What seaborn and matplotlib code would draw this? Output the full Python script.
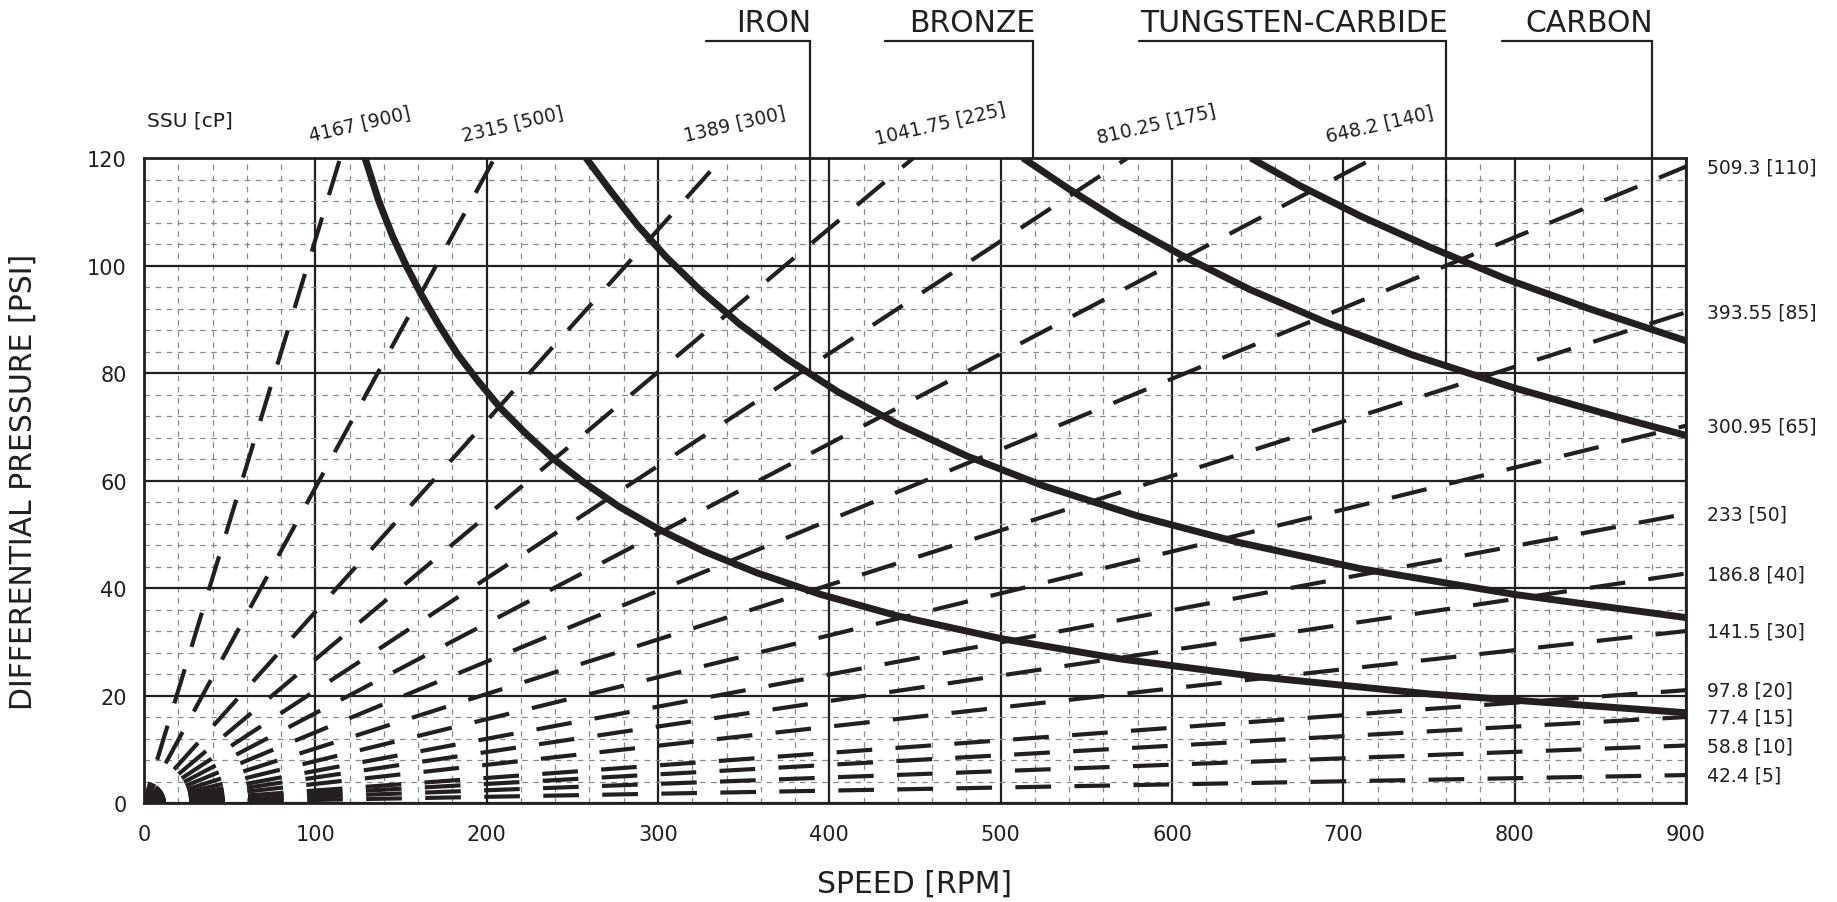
## PUMP SPEED / PRESSURE / VISCOSITY CHART

## LOAD LIBRARIES
import pandas as pd
import numpy as np
import matplotlib
matplotlib.use('Agg')
import matplotlib.pyplot as plt
import seaborn as sns

## DATA
#### viscosity lines leaving through the top edge (P = 120)
top_ssu = ['4167', '2315', '1389', '1041.75', '810.25', '648.2']
top_cp = [900, 500, 300, 225, 175, 140]
top_x_end = [114.5, 204.6, 337.5, 449, 574, 718]
top_label_x = [126, 215, 345, 465, 591, 721]

#### viscosity lines leaving through the right edge (N = 900)
right_ssu = ['509.3', '393.55', '300.95', '233', '186.8', '141.5', '97.8', '77.4', '58.8', '42.4']
right_cp = [110, 85, 65, 50, 40, 30, 20, 15, 10, 5]
right_y_end = [118.4, 91.3, 70.2, 53.8, 42.7, 32.0, 21.0, 16.0, 10.7, 5.2]

#### material limit curves (speed, pressure)
iron_x = [129, 137, 145, 153, 162, 172, 183, 195, 208, 222, 238, 256, 277, 300, 327, 358, 395, 440, 500, 570, 650, 750, 900]
iron_y = [120, 112, 105.5, 100, 94.5, 89, 83.5, 78.5, 73.5, 69, 64.3, 59.8, 55.2, 51, 46.8, 42.8, 38.8, 34.8, 30.6, 26.8, 23.5, 20.3, 16.8]
bronze_x = [258, 272, 288, 305, 325, 348, 375, 405, 440, 480, 525, 580, 640, 710, 800, 900]
bronze_y = [120, 114, 107.5, 101.5, 95.3, 89, 82.7, 76.5, 70.5, 64.6, 59, 53.4, 48.4, 43.6, 38.8, 34.5]
tungsten_x = [513, 540, 570, 605, 645, 690, 740, 800, 860, 900]
tungsten_y = [120, 114.2, 108.2, 102, 95.6, 89.4, 83.4, 77.2, 71.8, 68.4]
carbon_x = [646, 675, 710, 750, 795, 845, 900]
carbon_y = [120, 114.8, 109.2, 103.5, 97.5, 91.8, 86]

#### material labels and their leader lines
materials = ['IRON', 'BRONZE', 'TUNGSTEN-CARBIDE', 'CARBON']
mat_line_x = [388.7, 519, 760, 880]
mat_line_start = [328, 432.5, 581, 792.6]
mat_line_end = [80, 120, 81, 88]

INK = '#231f20'

## STYLE
sns.set_style('white')
plt.rcParams['font.family'] = ['DejaVu Sans']
plt.rcParams['lines.scale_dashes'] = False
plt.rcParams['text.color'] = INK

fig = plt.figure(figsize=(18.37, 9.03), dpi=100)
ax = fig.add_axes([0.0784, 0.1096, 0.8394, 0.7143])

#### dashed viscosity lines from the origin
dash_style = (10, (25.7, 16.8))
for xe in top_x_end:
    seg = pd.DataFrame({'x': [0, xe], 'y': [0, 120]})
    sns.lineplot(data=seg, x='x', y='y', ax=ax, color=INK, lw=3,
                 linestyle=dash_style, dash_capstyle='butt',
                 estimator=None, sort=False, zorder=3)
for ye in right_y_end:
    seg = pd.DataFrame({'x': [0, 900], 'y': [0, ye]})
    sns.lineplot(data=seg, x='x', y='y', ax=ax, color=INK, lw=3,
                 linestyle=dash_style, dash_capstyle='butt',
                 estimator=None, sort=False, zorder=3)

#### material curves
curves = [(iron_x, iron_y), (bronze_x, bronze_y), (tungsten_x, tungsten_y), (carbon_x, carbon_y)]
for cx, cy in curves:
    sns.lineplot(x=cx, y=cy, ax=ax, color=INK, lw=5, estimator=None,
                 sort=False, zorder=4, solid_capstyle='butt')

#### labels of viscosity lines
ax.text(2, 127, 'SSU [cP]', fontsize=14.5, ha='left', va='center', clip_on=False)
for s, c, lx in zip(top_ssu, top_cp, top_label_x):
    ax.text(lx, 126.4, f'{s} [{c}]', fontsize=13.5, rotation=13,
            rotation_mode='anchor', ha='center', va='center', clip_on=False)
for s, c, ye in zip(right_ssu, right_cp, right_y_end):
    ax.text(912, ye, f'{s} [{c}]', fontsize=13.5, ha='left', va='center', clip_on=False)

#### material labels with leader lines
for name, lx, ls, le in zip(materials, mat_line_x, mat_line_start, mat_line_end):
    ax.plot([ls, lx, lx], [141.7, 141.7, le], color=INK, lw=1.6,
            clip_on=False, zorder=5, solid_joinstyle='miter')
    ax.text(lx + 1, 143.6, name, fontsize=21.5, ha='right', va='baseline', clip_on=False)

#### axes and grid
ax.set_xlim(0, 900)
ax.set_ylim(0, 120)
ax.set_xticks(np.arange(0, 901, 100))
ax.set_yticks(np.arange(0, 121, 20))
ax.set_xticks(np.arange(0, 901, 20), minor=True)
ax.set_yticks(np.arange(0, 121, 4), minor=True)
ax.grid(which='minor', color='#8a8a8a', lw=0.9, linestyle=(0, (4, 4)))
ax.grid(which='major', color=INK, lw=1.6, linestyle='-')
ax.set_axisbelow(True)
ax.tick_params(which='both', length=0)
ax.tick_params(axis='x', pad=15, labelsize=15, labelcolor=INK)
ax.tick_params(axis='y', pad=12.5, labelsize=15, labelcolor=INK)
for sp in ax.spines.values():
    sp.set_visible(True)
    sp.set_color(INK)
    sp.set_linewidth(2)

ax.set_xlabel('SPEED [RPM]', fontsize=21.5, color=INK)
ax.set_ylabel('DIFFERENTIAL PRESSURE [PSI]', fontsize=21.5, color=INK)
ax.xaxis.set_label_coords(0.5, -0.125)
ax.xaxis.label.set_va('center')
ax.yaxis.set_label_coords(-0.0785, 0.5)
ax.yaxis.label.set_va('center')

fig.savefig('out.png', dpi=100, facecolor='white')
